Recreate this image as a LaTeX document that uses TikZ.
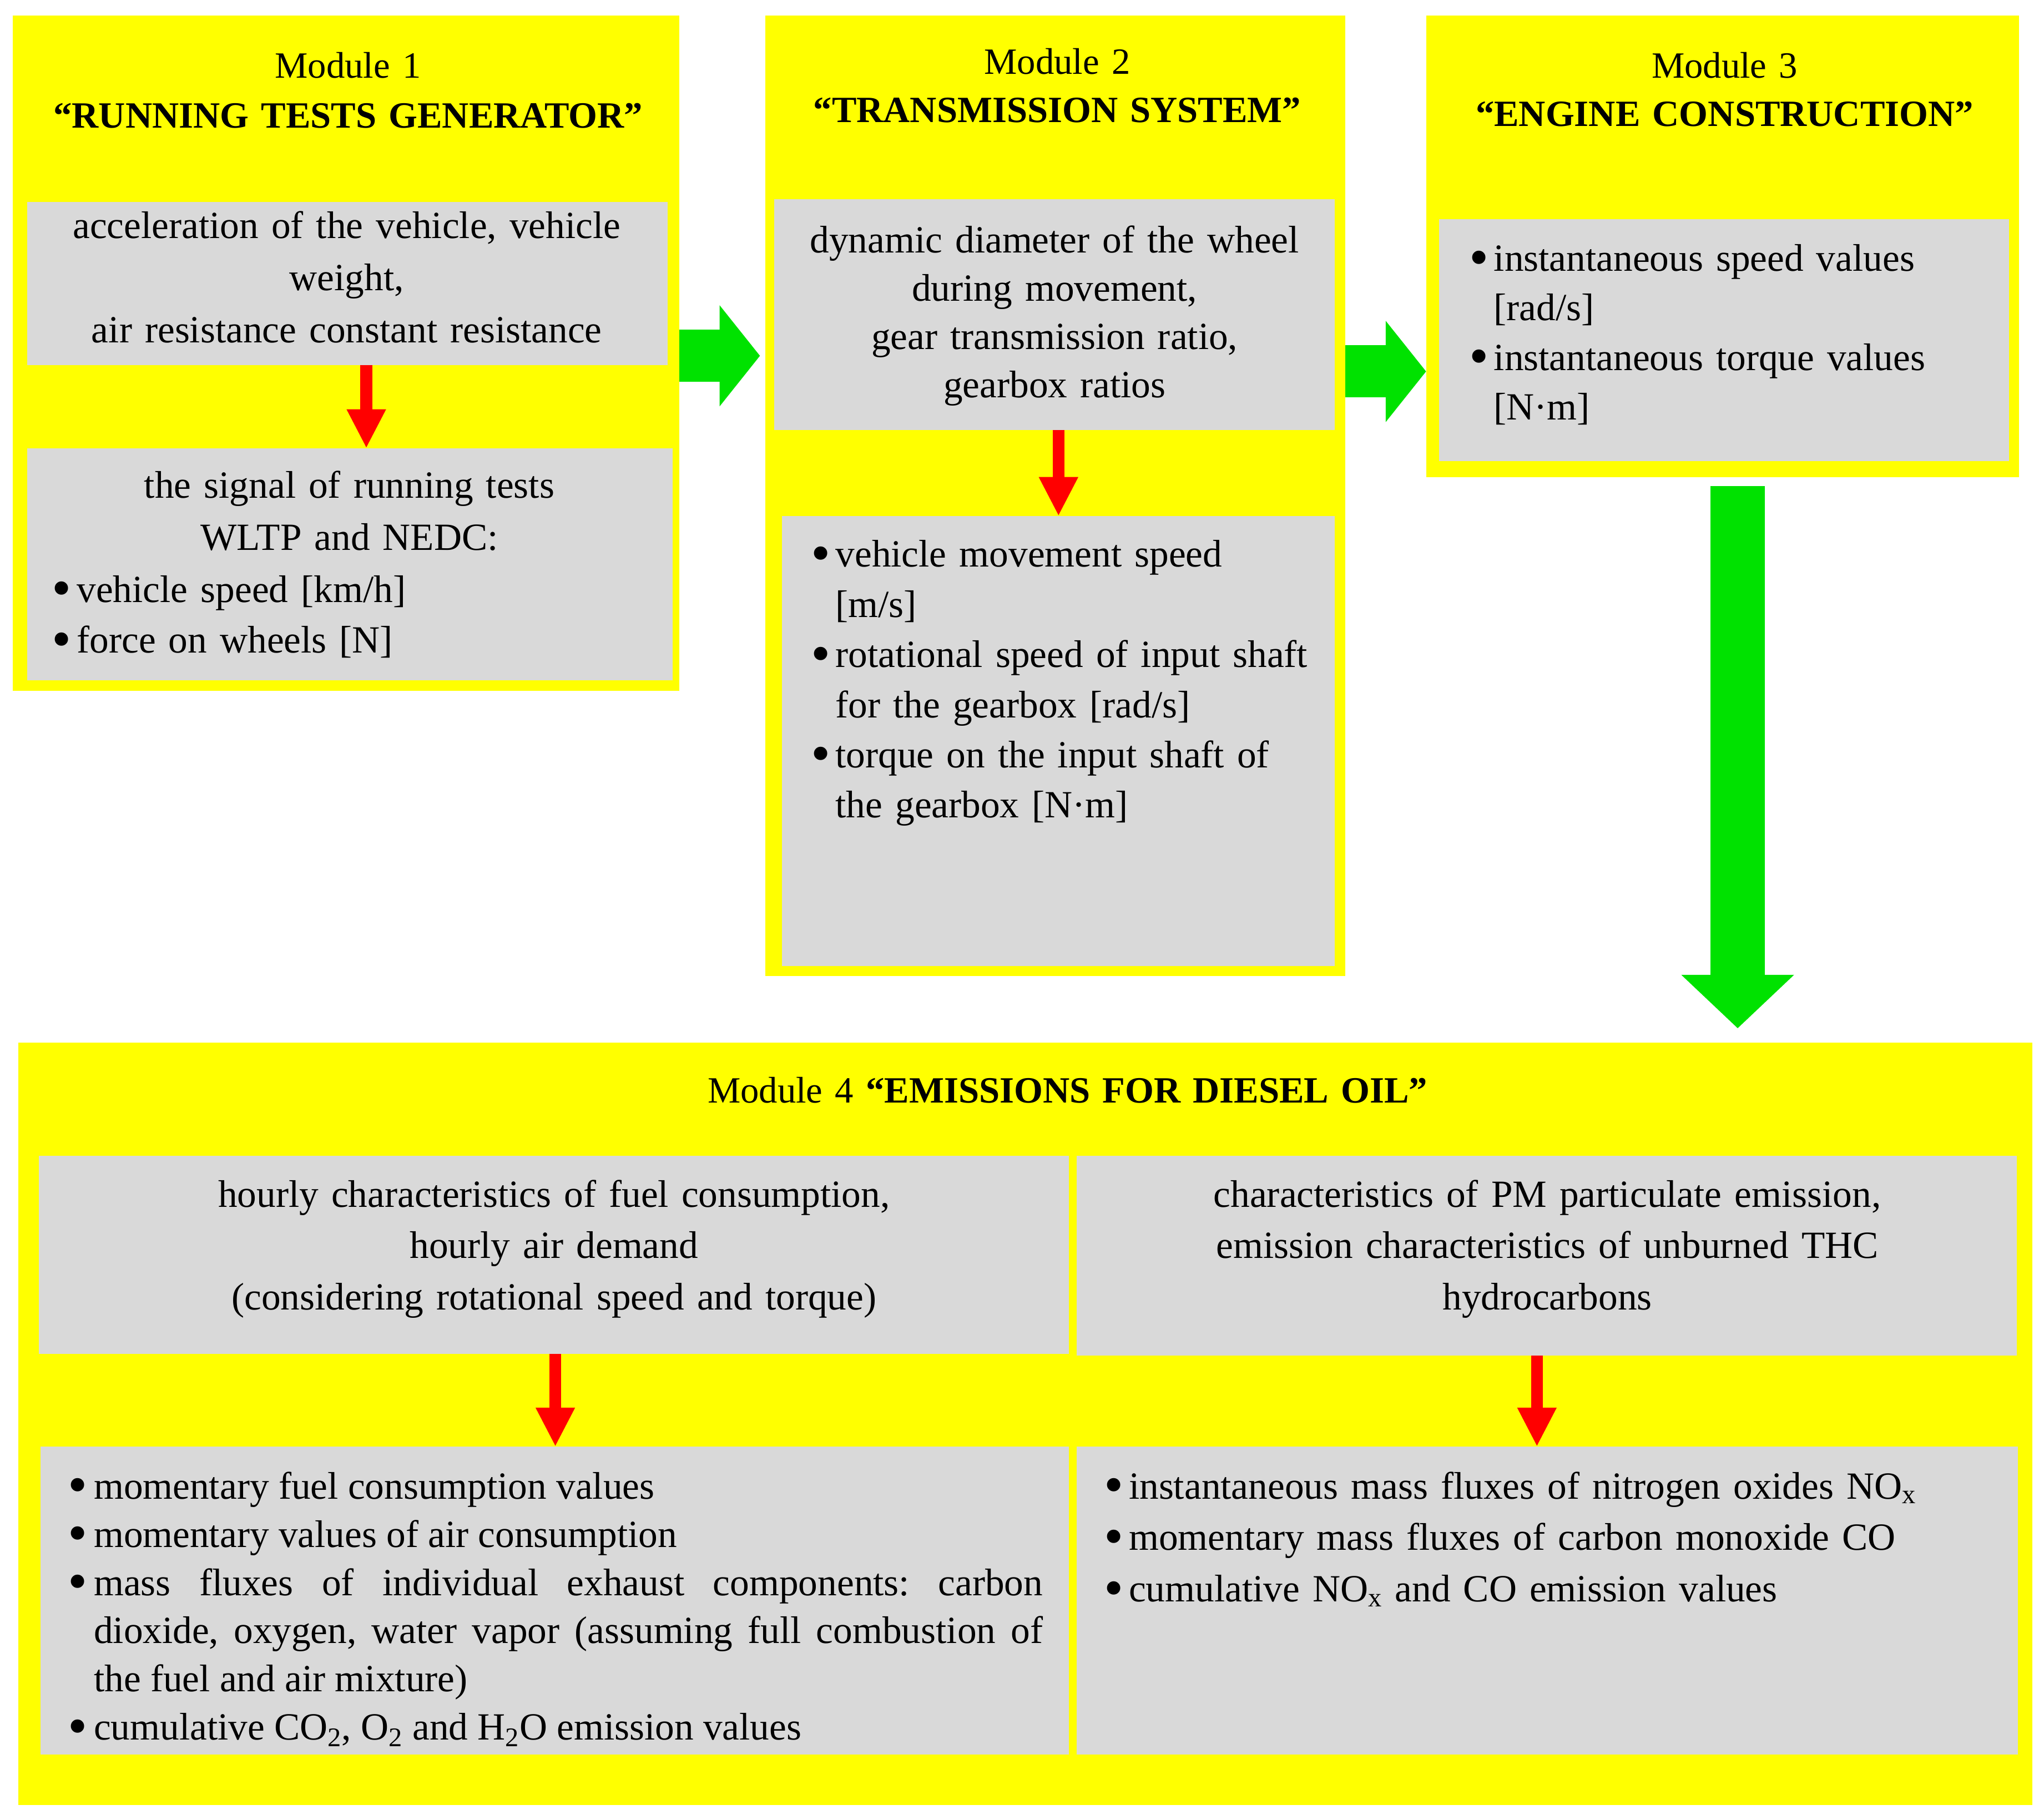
\documentclass[tikz,border=0pt]{standalone}
\usepackage{fontspec}
\setmainfont{Liberation Serif}
\usetikzlibrary{arrows.meta,calc}
\definecolor{myyellow}{RGB}{255,255,0}
\definecolor{mygrey}{RGB}{217,217,217}
\definecolor{mygreen}{RGB}{0,226,0}
\definecolor{myred}{RGB}{255,0,0}
\frenchspacing
\newcommand\bitem[1][18pt]{\noindent\hangindent=#1\hangafter=1\hbox to #1{\hskip-1pt\raisebox{-3.6pt}[0pt][0pt]{\scalebox{1.45}{\textbullet}}\hfil}}
\newcommand\lb{\linebreak\relax}
\begin{document}
\begin{tikzpicture}[x=1pt,y=-1pt,
  ybox/.style={fill=myyellow, draw=none, inner sep=0pt, outer sep=0pt, anchor=north west},
  gbox/.style={fill=mygrey, draw=none, inner sep=0pt, outer sep=0pt, anchor=north west},
  txt/.style={inner sep=0pt, outer sep=0pt},
  ctext/.style={txt, align=center, anchor=base},
  ltext/.style={txt, align=left, anchor=base west},
  jtext/.style={txt, align=justify, anchor=base west},
  fs/.style={font=\fontsize{29.5}{#1}\selectfont},
  ts/.style={font=\fontsize{28.4}{#1}\selectfont},
  redarrow/.style={draw=myred, line width=9pt, -{Triangle[width=28pt,length=30pt]}},
  greenarrow/.style={draw=mygreen, line width=40pt, -{Triangle[width=76pt,length=31pt]}},
  bigarrow/.style={draw=mygreen, line width=42pt, -{Triangle[width=84pt,length=41pt]}}
]
\fill[white] (0,0) rectangle (1568,1396.4);
\useasboundingbox (0,0) rectangle (1568,1396.4);

% Module boxes
\node[ybox, minimum width=511pt, minimum height=518pt] (m1) at (10,12) {};
\node[gbox, minimum width=491pt, minimum height=125pt] (g1) at (21,155) {};
\node[gbox, minimum width=495pt, minimum height=178pt] (g2) at (21,344) {};

\node[ybox, minimum width=445pt, minimum height=737pt] (m2) at (587,12) {};
\node[gbox, minimum width=430pt, minimum height=177pt] (g3) at (594,153) {};
\node[gbox, minimum width=424pt, minimum height=345pt] (g4) at (600,396) {};

\node[ybox, minimum width=455pt, minimum height=354pt] (m3) at (1094,12) {};
\node[gbox, minimum width=437pt, minimum height=186pt] (g5) at (1104,168) {};

\node[ybox, minimum width=1545pt, minimum height=585pt] (m4) at (14,800) {};
\node[gbox, minimum width=790pt, minimum height=152pt] (g6) at (30,887) {};
\node[gbox, minimum width=721pt, minimum height=153pt] (g7) at (826,887) {};
\node[gbox, minimum width=789pt, minimum height=236pt] (g8) at (31,1110) {};
\node[gbox, minimum width=722pt, minimum height=236pt] (g9) at (826,1110) {};

% Texts module 1
\node[ctext, ts=38, text width=490pt] (m1t) at (267,60) {Module 1\\\textbf{“RUNNING TESTS GENERATOR”}};
\node[ctext, fs=40, text width=480pt] (g1t) at (266,183) {acceleration of the vehicle, vehicle\\weight,\\air resistance constant resistance};
\node[ctext, fs=40, text width=480pt] (g2t) at (268,382) {the signal of running tests\\WLTP and NEDC:};
\node[ltext, fs=39, text width=460pt] (g2b) at (41,462) {\bitem vehicle speed [km/h]\par\bitem force on wheels [N]\par};

% Module 2
\node[ctext, ts=37, text width=440pt] (m2t) at (811,57) {Module 2\\\textbf{“TRANSMISSION SYSTEM”}};
\node[ctext, fs=37, text width=420pt] (g3t) at (809,194) {dynamic diameter of the wheel\\during movement,\\gear transmission ratio,\\gearbox ratios};
\node[ltext, fs=38.5, text width=395pt] (g4b) at (623,435) {\bitem vehicle movement speed\lb [m/s]\par
\bitem rotational speed of input shaft\lb for the gearbox [rad/s]\par
\bitem torque on the input shaft of\lb the gearbox [N·m]\par};

% Module 3
\node[ctext, ts=37, text width=450pt] (m3t) at (1323,60) {Module 3\\\textbf{“ENGINE CONSTRUCTION”}};
\node[ltext, fs=38, text width=405pt] (g5b) at (1128,208) {\bitem instantaneous speed values\lb [rad/s]\par
\bitem instantaneous torque values\lb [N·m]\par};

% Module 4
\node[ctext, ts=38, text width=1000pt] (m4t) at (819,846) {Module 4 \textbf{“EMISSIONS FOR DIESEL OIL”}};
\node[ctext, fs=39.5, text width=780pt] (g6t) at (425,926) {hourly characteristics of fuel consumption,\\hourly air demand\\(considering rotational speed and torque)};
\node[ctext, fs=39.5, text width=710pt] (g7t) at (1187,926) {characteristics of PM particulate emission,\\emission characteristics of unburned THC\\hydrocarbons};
\node[jtext, fs=37, text width=747pt] (g8b) at (53,1150) {\bitem[19pt]momentary fuel consumption values\par
\bitem[19pt]momentary values of air consumption\par
\bitem[19pt]mass fluxes of individual exhaust components: carbon\lb dioxide, oxygen, water vapor (assuming full combustion of\lb the fuel and air mixture)\par
\bitem[19pt]cumulative CO\textsubscript{2}, O\textsubscript{2} and H\textsubscript{2}O emission values\par};
\node[ltext, fs=39.5, text width=690pt] (g9b) at (848,1150) {\bitem[18pt]instantaneous mass fluxes of nitrogen oxides NO\textsubscript{x}\par
\bitem[18pt]momentary mass fluxes of carbon monoxide CO\par
\bitem[18pt]cumulative NO\textsubscript{x} and CO emission values\par};

% Red arrows
\draw[redarrow] (g1.south -| 281,0) -- (g2.north -| 281,0);
\draw[redarrow] (g3.south -| 812,0) -- (g4.north -| 812,0);
\draw[redarrow] (g6.south -| 426,0) -- (g8.north -| 426,0);
\draw[redarrow] (g7.south -| 1179,0) -- (g9.north -| 1179,0);

% Green arrows
\draw[greenarrow, shorten >=4pt] (m1.east |- 0,273) -- (m2.west |- 0,273);
\draw[greenarrow] (m2.east |- 0,285) -- (m3.west |- 0,285);
\draw[bigarrow, shorten <=7pt, shorten >=11pt] (m3.south -| 1333,0) -- (m4.north -| 1333,0);
\end{tikzpicture}
\end{document}
